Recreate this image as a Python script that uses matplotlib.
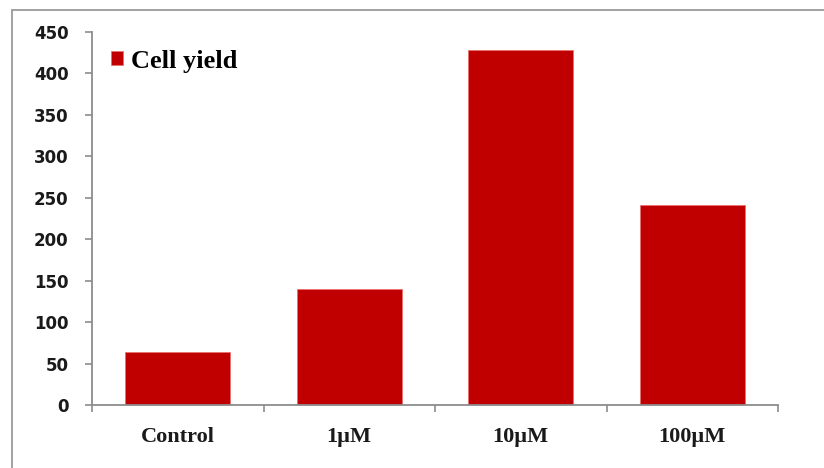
import matplotlib.pyplot as plt
from matplotlib.patches import Rectangle
import numpy as np

categories = ['Control', '1\u00b5M', '10\u00b5M', '100\u00b5M']
cell_yield = [64, 140, 428, 241]
yticks = [0, 50, 100, 150, 200, 250, 300, 350, 400, 450]

BAR_RED = '#C00000'
AXIS_GRAY = '#8c8c8c'

fig = plt.figure(figsize=(8.24, 4.68), dpi=100)
ax = fig.add_axes([92 / 824, 1 - 405 / 468, (778 - 92) / 824, (405 - 32) / 468])

# chart area border (runs off the right and bottom edges)
fig.patches.append(Rectangle((11.5 / 824, -0.1), 1.2, 1 - 9.5 / 468 + 0.1,
                             transform=fig.transFigure, fill=False,
                             edgecolor='#9a9a9a', linewidth=1.3))

x = np.arange(len(categories))
ax.bar(x, cell_yield, width=0.61, color=BAR_RED, edgecolor='#e87070',
       linewidth=0.6, label='Cell yield', zorder=2)

ax.set_xlim(-0.5, len(categories) - 0.5)
ax.set_ylim(0, 450)
ax.set_yticks(yticks)
ax.set_yticklabels([str(v) for v in yticks], fontsize=12, fontweight='bold',
                   family='DejaVu Sans', color='#1a1a1a')

ax.set_xticks(x)
ax.set_xticklabels(categories, fontsize=16, fontweight='bold',
                   family='Liberation Serif', color='#1a1a1a')
ax.set_xticks(np.arange(len(categories) + 1) - 0.5, minor=True)
ax.tick_params(axis='x', which='major', length=0, pad=16)
ax.tick_params(axis='x', which='minor', length=5, width=1.2, color=AXIS_GRAY)
ax.tick_params(axis='y', length=5, width=1.2, color=AXIS_GRAY, pad=12)

for side in ('top', 'right'):
    ax.spines[side].set_visible(False)
for side in ('left', 'bottom'):
    ax.spines[side].set_color(AXIS_GRAY)
    ax.spines[side].set_linewidth(1.3)

ax.legend(loc='center left', bbox_to_anchor=(0.028, 0.922), frameon=False,
          borderaxespad=0, borderpad=0,
          handlelength=0.45, handleheight=0.45, handletextpad=0.3,
          prop={'family': 'Liberation Serif', 'weight': 'bold', 'size': 19})

fig.savefig('out.png', dpi=100)
